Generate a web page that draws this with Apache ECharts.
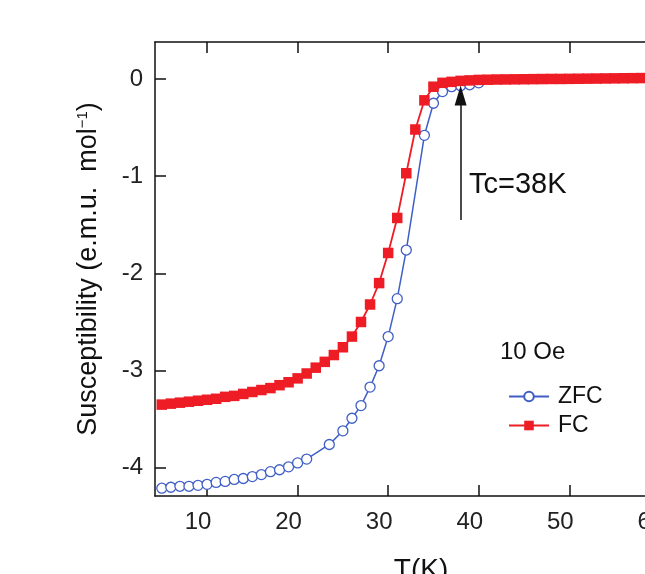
<!DOCTYPE html>
<html>
<head>
<meta charset="utf-8">
<script src="https://cdn.jsdelivr.net/npm/echarts@6/dist/echarts.min.js"></script>
<style>html,body{margin:0;padding:0;background:#fff;overflow:hidden;}#c{width:700px;height:574px;}</style>
</head>
<body>
<div id="c"></div>
<script>
// ---- data ----
const zfcT = [5,6,7,8,9,10,11,12,13,14,15,16,17,18,19,20,21,23.5,25,26,27,28,29,30,31,32,34,35,36,37,38,39,40];
const zfcV = [-4.21,-4.20,-4.19,-4.19,-4.18,-4.17,-4.15,-4.14,-4.12,-4.11,-4.09,-4.07,-4.04,-4.02,-3.99,-3.95,-3.91,
              -3.76,-3.62,-3.49,-3.36,-3.17,-2.95,-2.65,-2.26,-1.76,-0.58,-0.25,-0.13,-0.08,-0.07,-0.06,-0.04];
const fcT = [5,6,7,8,9,10,11,12,13,14,15,16,17,18,19,20,21,22,23,24,25,26,27,28,29,30,31,32,33,34,35,36,37,38,39,40,
             41,42,43,44,45,46,47,48,49,50,51,52,53,54,55,56,57,58,59,60];
const fcV = [-3.35,-3.34,-3.33,-3.32,-3.31,-3.30,-3.29,-3.27,-3.26,-3.24,-3.22,-3.20,-3.18,-3.15,-3.12,-3.08,-3.03,-2.97,-2.91,-2.84,
             -2.76,-2.65,-2.50,-2.32,-2.10,-1.79,-1.43,-0.97,-0.52,-0.22,-0.08,-0.04,-0.03,-0.02,-0.015,-0.01,
             -0.008,-0.006,-0.005,-0.004,-0.003,-0.002,-0.001,0,0,0.001,0.002,0.003,0.004,0.005,0.006,0.007,0.008,0.009,0.01,0.01];
const xTicks = [10,20,30,40,50,60];
const yTicks = [0,-1,-2,-3,-4];
const arrowFrom = [38,-1.45];
const arrowTo = [38,-0.17];

const FONT = '"Liberation Sans", Arial, Helvetica, sans-serif';
const BLUE = '#3f5fc6';
const RED = '#ee1c25';
const chart = echarts.init(document.getElementById('c'));
const axisBase = {
  type: 'value', min: 4.25, max: 63,
  axisLine: {show: true, onZero: false, lineStyle: {color: '#111', width: 1.5}},
  axisTick: {show: true, inside: true, length: 11, customValues: xTicks, lineStyle: {color: '#111', width: 1.5}},
  splitLine: {show: false}
};
chart.setOption({
  animation: false,
  backgroundColor: '#fff',
  textStyle: {fontFamily: FONT},
  grid: {left: 155, width: 532, top: 42, bottom: 78, containLabel: false, outerBoundsMode: 'none'},
  xAxis: [
    Object.assign({}, axisBase, {
      position: 'bottom',
      name: 'T(K)', nameLocation: 'middle', nameGap: 60,
      nameTextStyle: {fontSize: 28, color: '#111', fontFamily: FONT},
      axisLabel: {show: true, customValues: xTicks, fontSize: 24, color: '#222', margin: 14, fontFamily: FONT, padding: [0, 18, 0, 0]}
    }),
    Object.assign({}, axisBase, {
      position: 'top',
      axisLabel: {show: false}
    })
  ],
  yAxis: {
    type: 'value', min: -4.29, max: 0.38,
    axisLine: {show: true, onZero: false, lineStyle: {color: '#111', width: 1.5}},
    axisTick: {show: true, inside: true, length: 11, customValues: yTicks, lineStyle: {color: '#111', width: 1.5}},
    axisLabel: {show: true, customValues: yTicks, fontSize: 24, color: '#222', margin: 12, fontFamily: FONT, padding: [14, 0, 0, 0]},
    splitLine: {show: false},
    name: '{a|Susceptibility (e.m.u.  mol}{s|−1}{a|)}',
    nameLocation: 'middle', nameGap: 53,
    nameTextStyle: {
      color: '#111', fontFamily: FONT,
      rich: {a: {fontSize: 27, color: '#111', fontFamily: FONT}, s: {fontSize: 15, color: '#111', verticalAlign: 'top', padding: [0, 0, 12, 0], fontFamily: FONT}}
    }
  },
  legend: {
    orient: 'vertical', left: 503, top: 380, itemGap: 6,
    itemWidth: 40, itemHeight: 12,
    textStyle: {fontSize: 23, color: '#111', fontFamily: FONT, padding: [0, 0, 0, 4]},
    data: ['ZFC', 'FC']
  },
  series: [
    {
      name: 'FC', type: 'line', xAxisIndex: 0,
      data: fcT.map((t, i) => [t, fcV[i]]),
      symbol: 'rect', symbolSize: 10.5,
      itemStyle: {color: RED},
      lineStyle: {color: RED, width: 1.8},
      z: 2
    },
    {
      name: 'ZFC', type: 'line', xAxisIndex: 0,
      data: zfcT.map((t, i) => [t, zfcV[i]]),
      symbol: 'circle', symbolSize: 10,
      itemStyle: {color: '#fff', borderColor: BLUE, borderWidth: 1.3},
      lineStyle: {color: BLUE, width: 1.5},
      z: 1,
      markLine: {
        silent: true, symbol: ['none', 'triangle'], symbolSize: [12, 20],
        lineStyle: {color: '#111', width: 1.5, type: 'solid'},
        label: {show: false},
        data: [[{coord: arrowFrom}, {coord: arrowTo}]]
      }
    }
  ],
  graphic: [
    {type: 'text', left: 469, top: 170, style: {text: 'Tc=38K', fontSize: 29, fill: '#111', fontFamily: FONT}},
    {type: 'text', left: 500, top: 340, style: {text: '10 Oe', fontSize: 24, fill: '#111', fontFamily: FONT}}
  ]
});
</script>
</body>
</html>
